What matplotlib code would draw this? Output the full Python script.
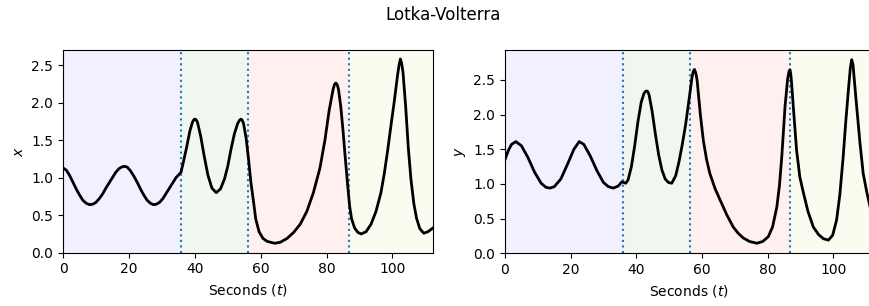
import matplotlib
matplotlib.use("Agg")
import matplotlib.pyplot as plt

# ---- data ----
t_x = [0, 1, 2, 3, 4, 5, 6, 7, 8, 9, 10, 11, 12, 13, 14, 15, 16, 17, 18, 18.7, 19.5, 20.5, 21.5, 22.5, 23.5, 24.5, 25.5, 26.5, 27.4, 28.3, 29.3, 30.3, 31.3, 32.3, 33.3, 34.3, 35.8,
       36.5, 37.5, 38.5, 39.3, 39.7, 40.0, 40.4, 40.8, 41.8, 42.8, 44.0, 45.2, 46.5, 47.8, 49.0, 50.0, 51.0, 52.0, 53.0, 53.6, 54.0, 54.4, 54.8, 55.6, 56.3,
       57.0, 57.7, 58.5, 59.5, 60.7, 62.0, 64.3, 66.0, 68.0, 70.0, 72.0, 74.0, 76.0, 78.0, 79.5, 80.8, 82.0, 82.4, 82.8, 83.2, 83.6, 84.3, 85.0, 85.7, 86.4, 87.0, 87.6, 88.5, 89.5, 90.5,
       92.0, 93.5, 95.0, 96.5, 97.5, 98.5, 99.5, 100.5, 101.5, 102.0, 102.4, 102.8, 103.2, 104.0, 104.8, 105.6, 106.5, 107.3, 108.3, 109.5, 110.8, 112.3]
x_vals = [1.13, 1.10, 1.03, 0.94, 0.85, 0.77, 0.70, 0.66, 0.64, 0.645, 0.67, 0.72, 0.78, 0.86, 0.93, 1.00, 1.07, 1.12, 1.145, 1.15, 1.14, 1.09, 1.02, 0.94, 0.85, 0.77, 0.70, 0.66, 0.64, 0.645, 0.67, 0.72, 0.79, 0.86, 0.93, 1.00, 1.07,
          1.20, 1.40, 1.62, 1.74, 1.77, 1.78, 1.77, 1.74, 1.55, 1.30, 1.03, 0.86, 0.80, 0.85, 0.98, 1.15, 1.38, 1.58, 1.72, 1.765, 1.78, 1.765, 1.72, 1.52, 1.25,
          0.95, 0.72, 0.45, 0.28, 0.19, 0.15, 0.125, 0.14, 0.19, 0.27, 0.38, 0.55, 0.80, 1.13, 1.50, 1.90, 2.18, 2.24, 2.26, 2.24, 2.18, 1.95, 1.62, 1.25, 0.90, 0.62, 0.45, 0.33, 0.27, 0.25,
          0.28, 0.38, 0.55, 0.80, 1.05, 1.35, 1.68, 2.00, 2.35, 2.50, 2.58, 2.52, 2.40, 1.95, 1.40, 0.98, 0.65, 0.46, 0.32, 0.26, 0.28, 0.33]

t_y = [0, 1, 2, 3.3, 5, 7, 9, 11, 12.5, 13.7, 15, 17, 19, 21, 22.6, 24, 26, 28, 30, 31.5, 33, 34.5, 35.6, 36.2, 36.8, 37.5,
       38.5, 39.5, 40.5, 41.5, 42.3, 42.7, 43.1, 43.5, 43.9, 44.8, 45.8, 46.8, 47.8, 48.8, 49.8, 50.8, 52.0, 53.0, 54.0, 55.0, 56.3,
       57.0, 57.35, 57.7, 58.1, 58.5, 59.5, 60.4, 61.4, 62.4, 64.0, 65.5, 67.5, 69.5, 71.0, 72.6, 74.5, 76.7, 78.5, 80.2, 81.5, 82.8, 83.6, 84.3, 85.3, 86.1, 86.5, 86.8,
       87.05, 87.3, 87.8, 88.8, 89.8, 90.9, 92.3, 93.9, 95.5, 97.0, 98.5, 99.8, 101.0, 102.0, 103.0, 103.8, 104.6, 105.2, 105.6, 106.0, 106.3, 107.1, 108.1, 109.1, 110.2, 111.2, 112.3]
y_vals = [1.35, 1.48, 1.57, 1.61, 1.55, 1.38, 1.17, 1.01, 0.95, 0.94, 0.96, 1.07, 1.28, 1.50, 1.61, 1.57, 1.40, 1.19, 1.02, 0.96, 0.94, 0.97, 1.03, 1.02, 1.01, 1.06,
          1.25, 1.55, 1.90, 2.18, 2.30, 2.33, 2.34, 2.33, 2.28, 2.05, 1.72, 1.42, 1.20, 1.07, 1.02, 1.01, 1.12, 1.32, 1.57, 1.85, 2.30,
          2.55, 2.62, 2.65, 2.60, 2.50, 2.00, 1.63, 1.35, 1.15, 0.93, 0.77, 0.56, 0.38, 0.29, 0.22, 0.17, 0.145, 0.17, 0.24, 0.38, 0.67, 0.98, 1.39, 2.12, 2.52, 2.62, 2.645,
          2.58, 2.45, 2.12, 1.49, 1.10, 0.87, 0.60, 0.38, 0.27, 0.21, 0.19, 0.26, 0.48, 0.85, 1.39, 1.90, 2.36, 2.68, 2.79, 2.72, 2.55, 2.12, 1.60, 1.15, 0.88, 0.67, 0.55]

change_points = [35.8, 56.3, 86.8]
t_end = 112.3
region_colors = ["b", "g", "r", "y"]
x_ticks = [0, 20, 40, 60, 80, 100]
y_ticks = [0.0, 0.5, 1.0, 1.5, 2.0, 2.5]

fig = plt.figure(figsize=(8.7, 3.06), dpi=100)
W, H = 870, 306
ax1 = fig.add_axes([63 / W, 1 - 252.7 / H, 370 / W, 202.7 / H])
ax2 = fig.add_axes([505 / W, 1 - 253.3 / H, 368.7 / W, 203.3 / H])

bounds = [0] + change_points + [t_end]
for ax, t, v, lab, ytop in [(ax1, t_x, x_vals, "$x$", 2.70), (ax2, t_y, y_vals, "$y$", 2.93)]:
    for i, c in enumerate(region_colors):
        ax.axvspan(bounds[i], bounds[i + 1], color=c, alpha=0.06, lw=0)
    for cp in change_points:
        ax.axvline(cp, color="C0", ls=":", lw=1.5)
    ax.plot(t, v, color="black", lw=2, solid_joinstyle="round")
    ax.set_xlim(0, t_end)
    ax.set_ylim(0, ytop)
    ax.set_xticks(x_ticks)
    ax.set_yticks(y_ticks)
    ax.set_xlabel("Seconds ($t$)")
    ax.set_ylabel(lab)

fig.suptitle("Lotka-Volterra", x=443 / W, y=1 - 15 / H, va="center", fontsize=12)
fig.savefig("out.png", dpi=100)
